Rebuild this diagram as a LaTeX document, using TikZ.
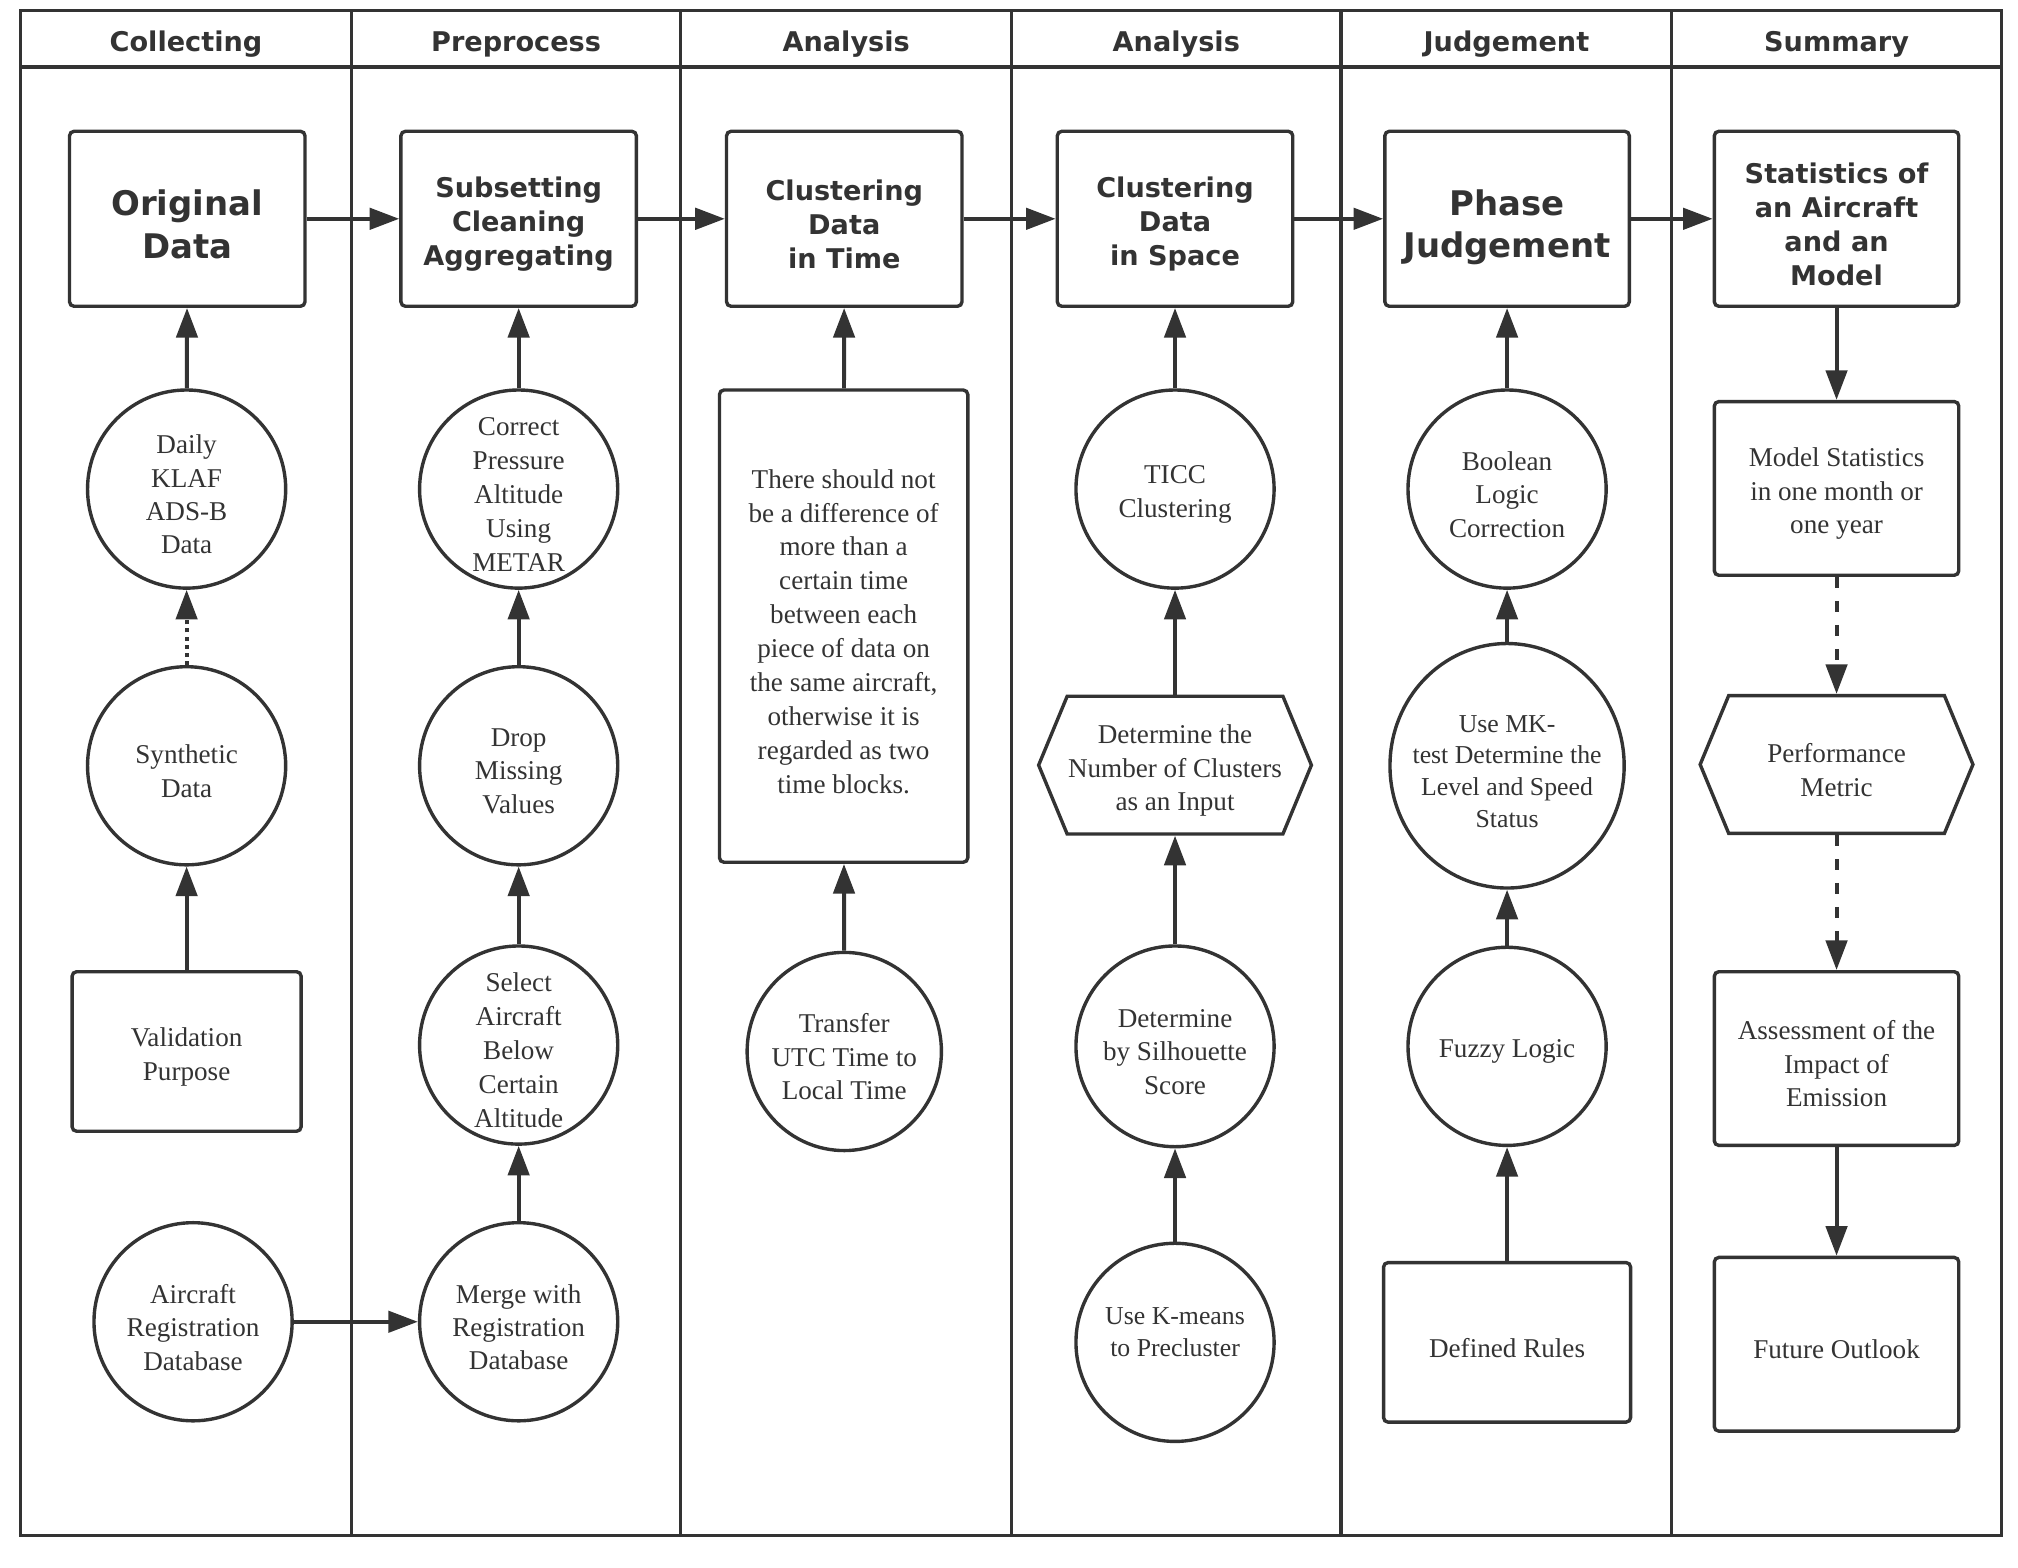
\documentclass[tikz,border=0pt]{standalone}
\usepackage{fontspec}
\setmainfont{Liberation Serif}
\newfontfamily\headfont{DejaVu Sans}
\usetikzlibrary{arrows.meta,shapes.geometric,shapes.symbols}
\definecolor{ink}{HTML}{333333}
\tikzset{
	box/.style = {draw, rounded corners=2pt, line width=1.5pt, minimum width=3.66cm, minimum height=2.72cm, inner sep=0pt},
	ell/.style = {draw, ellipse, line width=1.5pt, minimum width=3.08cm, minimum height=3.08cm, inner sep=0pt},
	hexa/.style = {draw, signal, signal to=west and east, signal pointer angle=135, line width=1.5pt, minimum width=4.24cm, minimum height=2.14cm, inner sep=0pt},
	txt/.style = {align=center, font=\fontsize{12}{14.8}\selectfont},
	lbl/.style = {txt, yshift=-2.4pt},
	small/.style = {font=\fontsize{11.4}{14}\selectfont},
	title/.style = {font=\headfont\bfseries\fontsize{12}{15}\selectfont},
	big/.style = {font=\headfont\bfseries\fontsize{15}{18.7}\selectfont},
	arr/.style = {line width=1.75pt, -{Triangle[length=0.46cm, width=0.33cm]}},
	dots/.style = {arr, dash pattern=on 1.8pt off 1.8pt},
	dashline/.style = {arr, dash pattern=on 5pt off 5.6pt}
}
\begin{document}
\begin{tikzpicture} [x = 0.02cm, y = -0.02cm, color = ink, text = ink, txt]
	\useasboundingbox (0,0) rectangle (1568,1218);
	% swim lanes
	\draw [line width=1.4pt] (16,8) rectangle (1555,1193);
	\draw [line width=1.4pt] (16,52) -- (1555,52);
	\foreach \x in {273,529,786,1042,1299}
		\draw [line width=1.4pt] (\x,8) -- (\x,1193);
	\node [title] (h1) at (144.5,34.5) {Collecting};
	\node [title] (h2) at (401,34.5) {Preprocess};
	\node [title] (h3) at (657.5,34.5) {Analysis};
	\node [title] (h4) at (914,34.5) {Analysis};
	\node [title] (h5) at (1170.5,34.5) {Judgement};
	\node [title] (h6) at (1427,34.5) {Summary};

	% collecting
	\node [box, label={[lbl,big]center:Original\\Data}] (orig) at (145.5,170) {};
	\node [ell, label={[lbl]center:Daily\\KLAF\\ADS-B\\Data}] (daily) at (145,380) {};
	\node [ell, label={[lbl]center:Synthetic\\Data}] (synth) at (145,595) {};
	\node [box, minimum width=3.56cm, minimum height=2.48cm, label={[lbl]center:Validation\\Purpose}] (valid) at (145,817) {};
	\node [ell, label={[lbl]center:Aircraft\\Registration\\Database}] (acreg) at (150,1027) {};
	\draw [arr] (valid) -- (synth);
	\draw [dots] (synth) -- (daily);
	\draw [arr] (daily) -- (orig);

	% preprocess
	\node [box, label={[lbl,title]center:Subsetting\\Cleaning\\Aggregating}] (sub) at (403,170) {};
	\node [ell, label={[lbl, font=\fontsize{12}{15}\selectfont]center:Correct\\Pressure\\Altitude\\Using\\METAR}] (correct) at (403,380) {};
	\node [ell, label={[lbl]center:Drop\\Missing\\Values}] (drop) at (403,595) {};
	\node [ell, label={[lbl, font=\fontsize{12}{15}\selectfont]center:Select\\Aircraft\\Below\\Certain\\Altitude}] (select) at (403,812) {};
	\node [ell, label={[lbl]center:Merge with\\Registration\\Database}] (merge) at (403,1027) {};
	\draw [arr] (acreg) -- (merge);
	\draw [arr] (merge) -- (select);
	\draw [arr] (select) -- (drop);
	\draw [arr] (drop) -- (correct);
	\draw [arr] (correct) -- (sub);
	\draw [arr] (orig) -- (sub);

	% analysis in time
	\node [box, label={[lbl,title]center:Clustering\\Data\\in Time}] (clt) at (656,170) {};
	\node [box, minimum width=3.86cm, minimum height=7.34cm, label={[lbl, font=\fontsize{12}{15}\selectfont]center:There should not\\be a difference of\\more than a\\certain time\\between each\\piece of data on\\the same aircraft,\\otherwise it is\\regarded as two\\time blocks.}] (note) at (655.5,486.5) {};
	\node [ell, minimum width=3.02cm, label={[lbl]center:Transfer\\UTC Time to\\Local Time}] (utc) at (656,817) {};
	\draw [arr] (utc) -- (note);
	\draw [arr] (note) -- (clt);
	\draw [arr] (sub) -- (clt);

	% analysis in space
	\node [box, label={[lbl,title]center:Clustering\\Data\\in Space}] (cls) at (913,170) {};
	\node [ell, label={[lbl]center:TICC\\Clustering}] (ticc) at (913,380) {};
	\node [hexa, label={[lbl]center:Determine the\\Number of Clusters\\as an Input}] (det) at (913,594.5) {};
	\node [ell, minimum height=3.12cm, label={[lbl]center:Determine\\by Silhouette\\Score}] (sil) at (913,813) {};
	\node [ell, label={[lbl,small,yshift=6.8pt]center:Use K-means\\to Precluster}] (kmeans) at (913,1043) {};
	\draw [arr] (kmeans) -- (sil);
	\draw [arr] (sil) -- (det);
	\draw [arr] (det) -- (ticc);
	\draw [arr] (ticc) -- (cls);
	\draw [arr] (clt) -- (cls);

	% judgement
	\node [box, minimum width=3.8cm, label={[lbl,big,yshift=-1.4pt]center:Phase\\Judgement}] (phase) at (1171,170) {};
	\node [ell, label={[lbl]center:Boolean\\Logic\\Correction}] (bool) at (1171,380) {};
	\node [ell, minimum width=3.64cm, minimum height=3.8cm, label={[lbl,small]center:Use MK-\\test Determine the\\Level and Speed\\Status}] (mk) at (1171,595) {};
	\node [ell, label={[lbl]center:Fuzzy Logic}] (fuzzy) at (1171,813) {};
	\node [box, minimum width=3.84cm, minimum height=2.48cm, label={[lbl]center:Defined Rules}] (rules) at (1171,1043) {};
	\draw [arr] (rules) -- (fuzzy);
	\draw [arr] (fuzzy) -- (mk);
	\draw [arr] (mk) -- (bool);
	\draw [arr] (bool) -- (phase);
	\draw [arr] (cls) -- (phase);

	% summary
	\node [box, minimum width=3.8cm, label={[lbl,title]center:Statistics of\\an Aircraft\\and an\\Model}] (stat) at (1427,170) {};
	\node [box, minimum width=3.8cm, minimum height=2.7cm, label={[lbl]center:Model Statistics\\in one month or\\one year}] (model) at (1427,379.5) {};
	\node [hexa, label={[lbl]center:Performance\\Metric}] (perf) at (1427,594) {};
	\node [box, minimum width=3.8cm, minimum height=2.7cm, label={[lbl]center:Assessment of the\\Impact of\\Emission}] (assess) at (1427,822.5) {};
	\node [box, minimum width=3.8cm, minimum height=2.7cm, label={[lbl]center:Future Outlook}] (future) at (1427,1044.5) {};
	\draw [arr] (phase) -- (stat);
	\draw [arr] (stat) -- (model);
	\draw [dashline] (model) -- (perf);
	\draw [dashline] (perf) -- (assess);
	\draw [arr] (assess) -- (future);
\end{tikzpicture}
\end{document}
